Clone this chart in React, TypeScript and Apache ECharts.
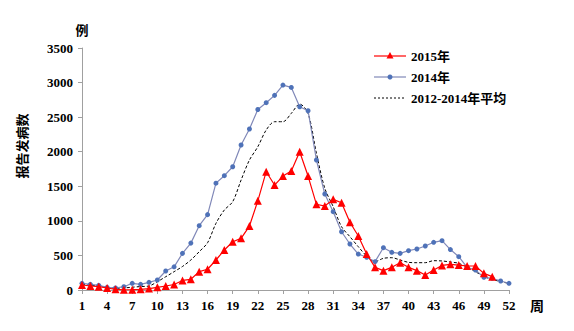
import React, { useEffect, useRef } from "react";
import * as echarts from "echarts";

const weeks = ["1","2","3","4","5","6","7","8","9","10","11","12","13","14","15","16","17","18","19","20","21","22","23","24","25","26","27","28","29","30","31","32","33","34","35","36","37","38","39","40","41","42","43","44","45","46","47","48","49","50","51","52"];

const y2015 = [72, 58, 48, 29, 10, 3, 5, 10, 20, 39, 58, 80, 138, 155, 265, 300, 434, 578, 698, 747, 925, 1290, 1711, 1518, 1648, 1721, 2000, 1648, 1239, 1215, 1311, 1262, 980, 781, 520, 328, 280, 328, 395, 328, 280, 217, 289, 355, 371, 361, 347, 347, 241, 193];

const y2014 = [97, 82, 68, 39, 29, 48, 97, 82, 111, 145, 275, 335, 530, 678, 930, 1090, 1545, 1653, 1783, 2097, 2328, 2610, 2709, 2815, 2964, 2930, 2650, 2593, 1880, 1388, 1133, 843, 665, 520, 473, 410, 612, 545, 530, 569, 593, 636, 690, 713, 585, 482, 328, 289, 183, 169, 130, 97];

const yAvg = [82, 70, 55, 40, 25, 30, 40, 50, 58, 120, 192, 265, 340, 434, 554, 684, 964, 1157, 1277, 1590, 1880, 2072, 2314, 2434, 2434, 2555, 2690, 2555, 1977, 1470, 1205, 915, 771, 626, 492, 410, 458, 467, 434, 400, 395, 395, 424, 420, 405, 386, 328, 265, 193, 155, 120, 97];

const seriesNames = ["2015年", "2014年", "2012-2014年平均"];

const FONT = "'Liberation Serif', 'Noto Sans CJK SC', serif";
const RED = "#ff0000";
const BLUE_LINE = "#8088b8";
const BLUE_DOT = "#4f72b8";

export default function App() {
  const ref = useRef<HTMLDivElement>(null);
  useEffect(() => {
    document.body.style.margin = "0";
    if (!ref.current) return;
    const chart = echarts.init(ref.current, null, { renderer: "svg" });
    const legendText = (y: number, text: string) => ({
      type: "text",
      x: 411,
      y,
      style: {
        text,
        font: "bold 13px 'Liberation Serif', 'Noto Sans CJK SC', serif",
        fill: "#000",
        align: "left",
        verticalAlign: "middle",
      },
    });
    chart.setOption({
      animation: false,
      backgroundColor: "#ffffff",
      grid: { left: 82, right: 65, top: 48, bottom: 41, containLabel: false },
      xAxis: {
        type: "category",
        data: weeks,
        boundaryGap: false,
        axisLine: { lineStyle: { color: "#a0a0a0", width: 1 } },
        axisTick: { interval: 2, length: 4, lineStyle: { color: "#a0a0a0" } },
        axisLabel: {
          interval: 2,
          margin: 9,
          color: "#000",
          fontFamily: FONT,
          fontWeight: "bold",
          fontSize: 13,
        },
        splitLine: { show: false },
      },
      yAxis: {
        type: "value",
        min: 0,
        max: 3500,
        interval: 500,
        name: "例",
        nameLocation: "end",
        nameGap: 12,
        nameTextStyle: { fontFamily: "'Noto Sans CJK SC', sans-serif", fontWeight: "bold", fontSize: 13, color: "#000", align: "center" },
        axisLine: { show: true, lineStyle: { color: "#a0a0a0", width: 1 } },
        axisTick: { show: true, length: 4, lineStyle: { color: "#a0a0a0" } },
        axisLabel: {
          margin: 9,
          color: "#000",
          fontFamily: FONT,
          fontWeight: "bold",
          fontSize: 13,
          formatter: (v: number) => String(v),
        },
        splitLine: { show: false },
      },
      graphic: [
        {
          type: "text",
          x: 21,
          y: 146,
          rotation: Math.PI / 2,
          style: {
            text: "报告发病数",
            font: "bold 13px 'Noto Sans CJK SC', sans-serif",
            fill: "#000",
            align: "center",
            verticalAlign: "middle",
          },
        },
        {
          type: "text",
          x: 537,
          y: 305,
          style: {
            text: "周",
            font: "bold 14px 'Noto Sans CJK SC', sans-serif",
            fill: "#000",
            align: "center",
            verticalAlign: "middle",
          },
        },
        { type: "line", shape: { x1: 374, y1: 56, x2: 406, y2: 56 }, style: { stroke: RED, lineWidth: 1.2 } },
        { type: "polygon", shape: { points: [[390, 52], [386.5, 58.5], [393.5, 58.5]] }, style: { fill: RED } },
        legendText(56, seriesNames[0]),
        { type: "line", shape: { x1: 374, y1: 77, x2: 406, y2: 77 }, style: { stroke: BLUE_LINE, lineWidth: 1.2 } },
        { type: "circle", shape: { cx: 390, cy: 77, r: 2.5 }, style: { fill: BLUE_DOT } },
        legendText(77, seriesNames[1]),
        { type: "line", shape: { x1: 374, y1: 98, x2: 406, y2: 98 }, style: { stroke: "#000", lineWidth: 1, lineDash: [2, 2] } },
        legendText(98, seriesNames[2]),
      ],
      series: [
        {
          name: seriesNames[0],
          type: "line",
          data: y2015,
          symbol: "triangle",
          symbolSize: 8,
          showAllSymbol: true,
          itemStyle: { color: RED },
          lineStyle: { color: RED, width: 1.2 },
          z: 4,
        },
        {
          name: seriesNames[1],
          type: "line",
          data: y2014,
          symbol: "circle",
          symbolSize: 5,
          showAllSymbol: true,
          itemStyle: { color: BLUE_DOT },
          lineStyle: { color: BLUE_LINE, width: 1.2 },
          z: 3,
        },
        {
          name: seriesNames[2],
          type: "line",
          data: yAvg,
          symbol: "none",
          smooth: 0.3,
          itemStyle: { color: "#000" },
          lineStyle: { color: "#000", width: 1, type: [3, 2] },
          z: 2,
        },
      ],
    });
    return () => chart.dispose();
  }, []);
  return <div ref={ref} style={{ width: 574, height: 331 }} />;
}
